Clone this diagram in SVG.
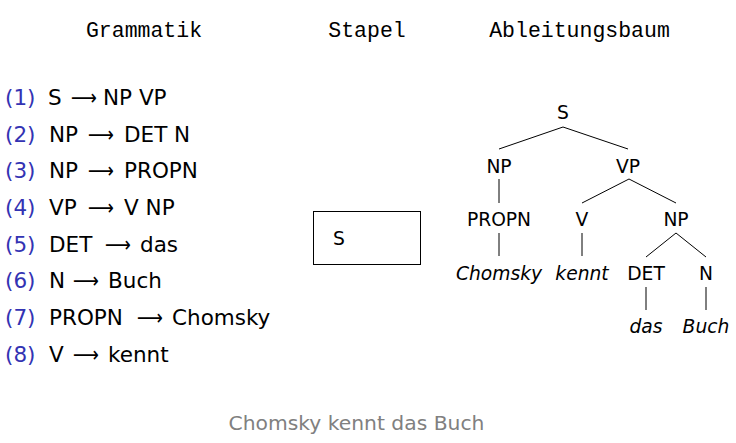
<svg xmlns="http://www.w3.org/2000/svg" width="736" height="443" viewBox="0 0 736 443">
<style>
.hd{font-family:"Liberation Mono","DejaVu Sans Mono",monospace;font-size:21.5px;fill:#000;text-anchor:middle}
.g{font-family:"DejaVu Sans","Liberation Sans",sans-serif;font-size:21.5px;fill:#000}
.ar{font-family:"DejaVu Sans","Liberation Sans",sans-serif;font-size:21.5px;fill:#000}
.num{fill:#3333b3}
.t{font-family:"DejaVu Sans","Liberation Sans",sans-serif;font-size:18.7px;fill:#000;text-anchor:middle}
.it{font-style:italic}
.ln{stroke:#000;stroke-width:1;fill:none}
.ft{font-family:"DejaVu Sans","Liberation Sans",sans-serif;font-size:20.3px;fill:#808080;text-anchor:middle}
</style>
<rect width="736" height="443" fill="#fff"/>
<g id="headers">
<text class="hd" x="144" y="37">Grammatik</text>
<text class="hd" x="367" y="37">Stapel</text>
<text class="hd" x="579.5" y="37">Ableitungsbaum</text>
</g>
<g id="grammar">
<g id="r1"><text class="g num" x="5" y="105">(1)</text><text class="g" x="48" y="105">S</text><text class="ar" x="71" y="105" textLength="26" lengthAdjust="spacingAndGlyphs">⟶</text><text class="g" x="103" y="105">NP VP</text></g>
<g id="r2"><text class="g num" x="5" y="141.7">(2)</text><text class="g" x="49" y="141.7">NP</text><text class="ar" x="88" y="141.7" textLength="26" lengthAdjust="spacingAndGlyphs">⟶</text><text class="g" x="124" y="141.7">DET N</text></g>
<g id="r3"><text class="g num" x="5" y="178.3">(3)</text><text class="g" x="49" y="178.3">NP</text><text class="ar" x="88" y="178.3" textLength="26" lengthAdjust="spacingAndGlyphs">⟶</text><text class="g" x="124" y="178.3">PROPN</text></g>
<g id="r4"><text class="g num" x="5" y="215">(4)</text><text class="g" x="49" y="215">VP</text><text class="ar" x="88" y="215" textLength="26" lengthAdjust="spacingAndGlyphs">⟶</text><text class="g" x="124" y="215">V NP</text></g>
<g id="r5"><text class="g num" x="5" y="251.7">(5)</text><text class="g" x="49" y="251.7">DET</text><text class="ar" x="105" y="251.7" textLength="26" lengthAdjust="spacingAndGlyphs">⟶</text><text class="g" x="140" y="251.7">das</text></g>
<g id="r6"><text class="g num" x="5" y="288.3">(6)</text><text class="g" x="49" y="288.3">N</text><text class="ar" x="73" y="288.3" textLength="26" lengthAdjust="spacingAndGlyphs">⟶</text><text class="g" x="108" y="288.3">Buch</text></g>
<g id="r7"><text class="g num" x="5" y="325">(7)</text><text class="g" x="49" y="325">PROPN</text><text class="ar" x="137" y="325" textLength="26" lengthAdjust="spacingAndGlyphs">⟶</text><text class="g" x="172" y="325">Chomsky</text></g>
<g id="r8"><text class="g num" x="5" y="361.7">(8)</text><text class="g" x="49" y="361.7">V</text><text class="ar" x="73" y="361.7" textLength="26" lengthAdjust="spacingAndGlyphs">⟶</text><text class="g" x="108" y="361.7">kennt</text></g>
</g>
<g id="stack">
<rect x="313.5" y="211.5" width="107" height="53" fill="none" stroke="#000" stroke-width="1"/>
<text class="t" x="339" y="245">S</text>
</g>
<g id="connectors">
<line class="ln" x1="563" y1="127" x2="499" y2="149"/>
<line class="ln" x1="563" y1="127" x2="628" y2="149"/>
<line class="ln" x1="499" y1="179" x2="499" y2="203"/>
<line class="ln" x1="499" y1="233" x2="499" y2="256"/>
<line class="ln" x1="629" y1="179" x2="582" y2="203"/>
<line class="ln" x1="629" y1="179" x2="676" y2="203"/>
<line class="ln" x1="582" y1="233" x2="582" y2="256"/>
<line class="ln" x1="676" y1="233" x2="646" y2="257"/>
<line class="ln" x1="676" y1="233" x2="706" y2="257"/>
<line class="ln" x1="646" y1="287" x2="646" y2="310"/>
<line class="ln" x1="706" y1="287" x2="706" y2="310"/>
</g>
<g id="n-S"><text class="t" x="563" y="119">S</text></g>
<g id="n-NP1"><text class="t" x="499" y="172.5">NP</text></g>
<g id="n-VP"><text class="t" x="628" y="172.5">VP</text></g>
<g id="n-PROPN"><text class="t" x="499" y="226">PROPN</text></g>
<g id="n-V"><text class="t" x="582" y="226">V</text></g>
<g id="n-NP2"><text class="t" x="676" y="226">NP</text></g>
<g id="n-Chomsky"><text class="t it" x="499" y="279.5">Chomsky</text></g>
<g id="n-kennt"><text class="t it" x="582" y="279.5">kennt</text></g>
<g id="n-DET"><text class="t" x="646" y="279.5">DET</text></g>
<g id="n-N"><text class="t" x="706" y="279.5">N</text></g>
<g id="n-das"><text class="t it" x="646" y="333">das</text></g>
<g id="n-Buch"><text class="t it" x="706" y="333">Buch</text></g>
<g id="footer"><text class="ft" x="356.5" y="430">Chomsky kennt das Buch</text></g>
</svg>
